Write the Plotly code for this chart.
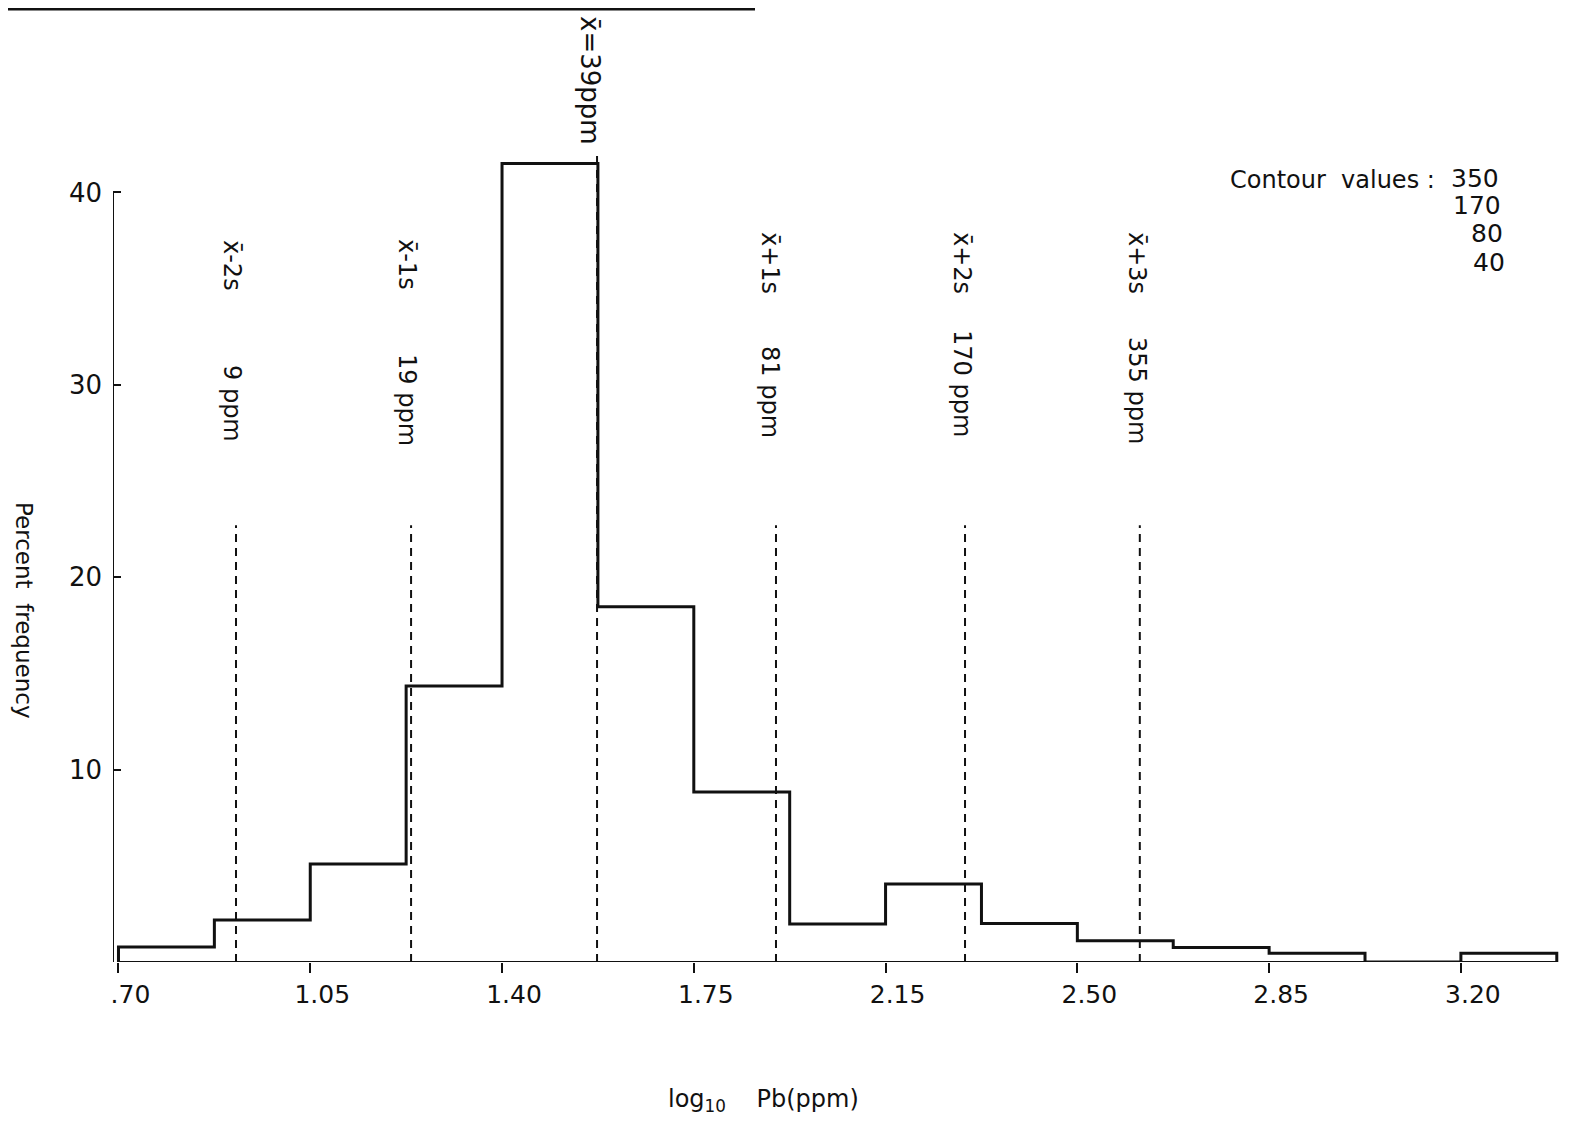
import plotly.graph_objects as go

# ---- data ----
bin_edges = [0.700, 0.875, 1.050, 1.225, 1.400, 1.575, 1.750, 1.925,
             2.100, 2.275, 2.450, 2.625, 2.800, 2.975, 3.150, 3.325]
percent_freq = [0.78, 2.18, 5.1, 14.35, 41.5, 18.46, 8.84, 1.98,
                4.06, 2.0, 1.1, 0.75, 0.45, 0.0, 0.45]

x_tickvals = [0.70, 1.05, 1.40, 1.75, 2.10, 2.45, 2.80, 3.15]
x_ticktext = [".70", "1.05", "1.40", "1.75", "2.15", "2.50", "2.85", "3.20"]
y_tickvals = [10, 20, 30, 40]
y_ticktext = ["10", "20", "30", "40"]

sd_labels = ["x̄-2s", "x̄-1s", "x̄+1s", "x̄+2s", "x̄+3s"]
sd_ppm = ["9 ppm", "19 ppm", "81 ppm", "170 ppm", "355 ppm"]
sd_positions = [0.9145, 1.234, 1.900, 2.245, 2.564]
mean_position = 1.5734
mean_label = "x̄=39ppm"
contour_values = ["350", "170", "80", "40"]

FONT = "DejaVu Sans"
BLACK = "#111111"

# page offset of the figure inside the browser window (body margin)
OFF = 8
L = 113 - OFF          # left margin (figure px)
PLOT_W = 1452
PLOT_H = 962 - OFF     # y=0 at page px 962
FIG_W = 1574 - OFF
FIG_H = 1123 - OFF
PX_PER_Y = 19.24
PX_PER_X = PLOT_W / 2.65


def px_to_x(px):
    return 0.69 + (px - 113) / PX_PER_X


def py_to_y(py):
    return (962 - py) / PX_PER_Y


def px_to_paper(px):
    return (px - 113) / PLOT_W


def py_to_paper(py):
    return (962 - py) / PLOT_H


# ---- histogram step line ----
xs = [bin_edges[0]] + bin_edges + [bin_edges[-1]]
ys = [0] + percent_freq + [percent_freq[-1], 0]

fig = go.Figure()
fig.add_trace(go.Scatter(x=xs, y=ys, mode="lines", line=dict(color=BLACK, width=3, shape="hv"),
                         hoverinfo="skip", showlegend=False))

# dashed s.d. lines
for xp in sd_positions:
    fig.add_trace(go.Scatter(x=[xp, xp], y=[0, 22.7], mode="lines",
                             line=dict(color=BLACK, width=2, dash="8px,6px"),
                             hoverinfo="skip", showlegend=False))
fig.add_trace(go.Scatter(x=[mean_position, mean_position], y=[0, 42.2], mode="lines",
                         line=dict(color=BLACK, width=2, dash="8px,6px"),
                         hoverinfo="skip", showlegend=False))

shapes = [
    dict(type="line", xref="x", yref="y", x0=bin_edges[0], x1=bin_edges[-1], y0=0, y1=0,
         line=dict(color=BLACK, width=2)),
    dict(type="line", xref="x", yref="y", x0=0.69, x1=0.69, y0=0, y1=40,
         line=dict(color=BLACK, width=2)),
    dict(type="line", xref="paper", yref="paper", x0=px_to_paper(8), x1=px_to_paper(755),
         y0=0.999, y1=0.999, line=dict(color=BLACK, width=3)),
]

annotations = []
top_centers = [265, 264, 263, 263, 263]
bottom_centers = [403, 400, 392, 383, 390]
label_px = [232, 407, 770, 962, 1137]

for lab, ppm, lx, tc, bc in zip(sd_labels, sd_ppm, label_px, top_centers, bottom_centers):
    annotations.append(dict(x=px_to_x(lx), y=py_to_y(tc), xref="x", yref="y", text=lab,
                            textangle=90, showarrow=False, xanchor="center", yanchor="middle",
                            font=dict(family=FONT, size=24, color=BLACK)))
    annotations.append(dict(x=px_to_x(lx), y=py_to_y(bc), xref="x", yref="y", text=ppm,
                            textangle=90, showarrow=False, xanchor="center", yanchor="middle",
                            font=dict(family=FONT, size=24, color=BLACK)))

annotations.append(dict(x=px_to_x(590), y=py_to_y(80), xref="x", yref="y", text=mean_label,
                        textangle=90, showarrow=False, xanchor="center", yanchor="middle",
                        font=dict(family=FONT, size=26, color=BLACK)))

annotations.append(dict(x=px_to_x(1437), y=py_to_y(180), xref="x", yref="y",
                        text="Contour  values :", showarrow=False, xanchor="right",
                        yanchor="middle", font=dict(family=FONT, size=24, color=BLACK)))
for val, py, rx in zip(contour_values, [178, 205, 233, 262], [1501, 1503, 1505, 1507]):
    annotations.append(dict(x=px_to_x(rx), y=py_to_y(py), xref="x", yref="y", text=val,
                            showarrow=False, xanchor="right", yanchor="middle",
                            font=dict(family=FONT, size=25, color=BLACK)))

annotations.append(dict(x=px_to_paper(24), y=py_to_paper(610), xref="paper", yref="paper",
                        text="Percent  frequency", textangle=90, showarrow=False,
                        xanchor="center", yanchor="middle",
                        font=dict(family=FONT, size=23, color=BLACK)))
annotations.append(dict(x=px_to_paper(763), y=py_to_paper(1100), xref="paper", yref="paper",
                        text="log<sub>10</sub>    Pb(ppm)", showarrow=False,
                        xanchor="center", yanchor="middle",
                        font=dict(family=FONT, size=24, color=BLACK)))

fig.update_layout(
    width=FIG_W, height=FIG_H,
    margin=dict(l=L, r=FIG_W - L - PLOT_W, t=0, b=FIG_H - PLOT_H),
    paper_bgcolor="white", plot_bgcolor="white",
    showlegend=False,
    shapes=shapes,
    annotations=annotations,
    xaxis=dict(range=[0.69, 3.34], showgrid=False, zeroline=False, showline=False,
               tickvals=x_tickvals, ticktext=x_ticktext, ticks="outside", ticklen=10,
               tickwidth=2, tickcolor=BLACK, ticklabelshift=12,
               tickfont=dict(family=FONT, size=25, color=BLACK)),
    yaxis=dict(range=[0, PLOT_H / PX_PER_Y], showgrid=False, zeroline=False, showline=False,
               tickvals=y_tickvals, ticktext=y_ticktext, ticks="inside", ticklen=8,
               tickwidth=2, tickcolor=BLACK, ticklabelstandoff=10,
               tickfont=dict(family=FONT, size=26, color=BLACK)),
)

fig.write_html("out.html")
